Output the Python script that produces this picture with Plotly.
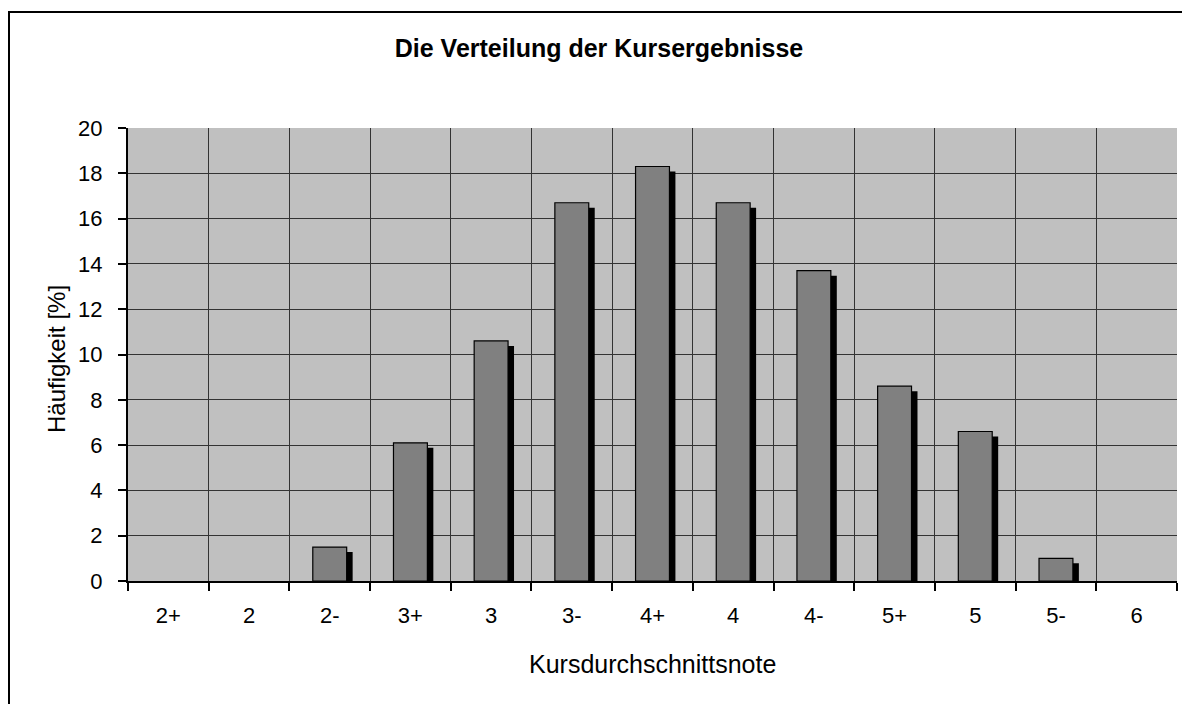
import plotly.graph_objects as go

categories = ["2+", "2", "2-", "3+", "3", "3-", "4+", "4", "4-", "5+", "5", "5-", "6"]
values = [0, 0, 1.5, 6.1, 10.6, 16.7, 18.3, 16.7, 13.7, 8.6, 6.6, 1.0, 0]
y_ticks = [0, 2, 4, 6, 8, 10, 12, 14, 16, 18, 20]

title_text = "Die Verteilung der Kursergebnisse"
x_title = "Kursdurchschnittsnote"
y_title = "Häufigkeit [%]"

FONT = "Liberation Sans, Arial, sans-serif"
BAR_W = 0.42
SH_DX = 0.074   # shadow offset (category units)
SH_DY = 0.22    # shadow drop (value units)

# page has an 8px body margin; figure coords = page coords - 8
W, H = 1182, 696
PL, PR, PT, PB = 120, 1169, 120, 573   # plot area in figure px

def px_x(p):
    return (p - 8 - PL) / (PR - PL)

def px_y(p):
    return (PB - (p - 8)) / (PB - PT)

draw_vals = [v if v > 0 else None for v in values]
shadow_vals = [(v - SH_DY) if v > 0 else None for v in values]

fig = go.Figure()
fig.add_trace(go.Bar(
    x=categories, y=shadow_vals, width=BAR_W, offset=-BAR_W / 2 + SH_DX,
    marker=dict(color="#000000", line=dict(width=0)),
    hoverinfo="skip", showlegend=False,
))
fig.add_trace(go.Bar(
    x=categories, y=draw_vals, width=BAR_W, offset=-BAR_W / 2,
    marker=dict(color="#808080", line=dict(color="#000000", width=1.2)),
    showlegend=False,
))

fig.update_layout(
    width=W, height=H,
    margin=dict(l=PL, r=W - PR, t=PT, b=H - PB),
    paper_bgcolor="white",
    plot_bgcolor="#C0C0C0",
    barmode="overlay",
    font=dict(family=FONT, size=22, color="black"),
    title=dict(text="<b>" + title_text + "</b>", x=0.5, xanchor="center",
               y=1 - (48 - 8) / H, yanchor="middle",
               font=dict(family=FONT, size=25, color="black")),
    xaxis=dict(
        type="category", tickson="boundaries",
        showgrid=True, gridcolor="#333333", gridwidth=1,
        showline=True, linecolor="black", linewidth=2,
        ticks="outside", ticklen=8, tickwidth=2, tickcolor="black",
        ticklabelstandoff=14,
        tickfont=dict(family=FONT, size=22),
        range=[-0.5, 12.5],
    ),
    yaxis=dict(
        range=[0, 20], tickvals=y_ticks,
        showgrid=True, gridcolor="#333333", gridwidth=1,
        showline=True, linecolor="black", linewidth=2,
        ticks="outside", ticklen=8, tickwidth=2, tickcolor="black",
        ticklabelstandoff=11,
        tickfont=dict(family=FONT, size=22),
        zeroline=False,
    ),
    annotations=[
        dict(text=x_title, xref="paper", yref="paper", x=0.5, y=px_y(664),
             xanchor="center", yanchor="middle", showarrow=False,
             font=dict(family=FONT, size=25, color="black")),
        dict(text=y_title, xref="paper", yref="paper", x=px_x(56), y=px_y(359),
             xanchor="center", yanchor="middle", showarrow=False, textangle=-90,
             font=dict(family=FONT, size=24, color="black")),
    ],
    shapes=[
        dict(type="rect", xref="paper", yref="paper",
             x0=px_x(9), x1=px_x(1210),
             y0=px_y(730), y1=px_y(12),
             line=dict(color="black", width=2), fillcolor="rgba(0,0,0,0)", layer="below"),
    ],
)

fig.write_html("out.html")
